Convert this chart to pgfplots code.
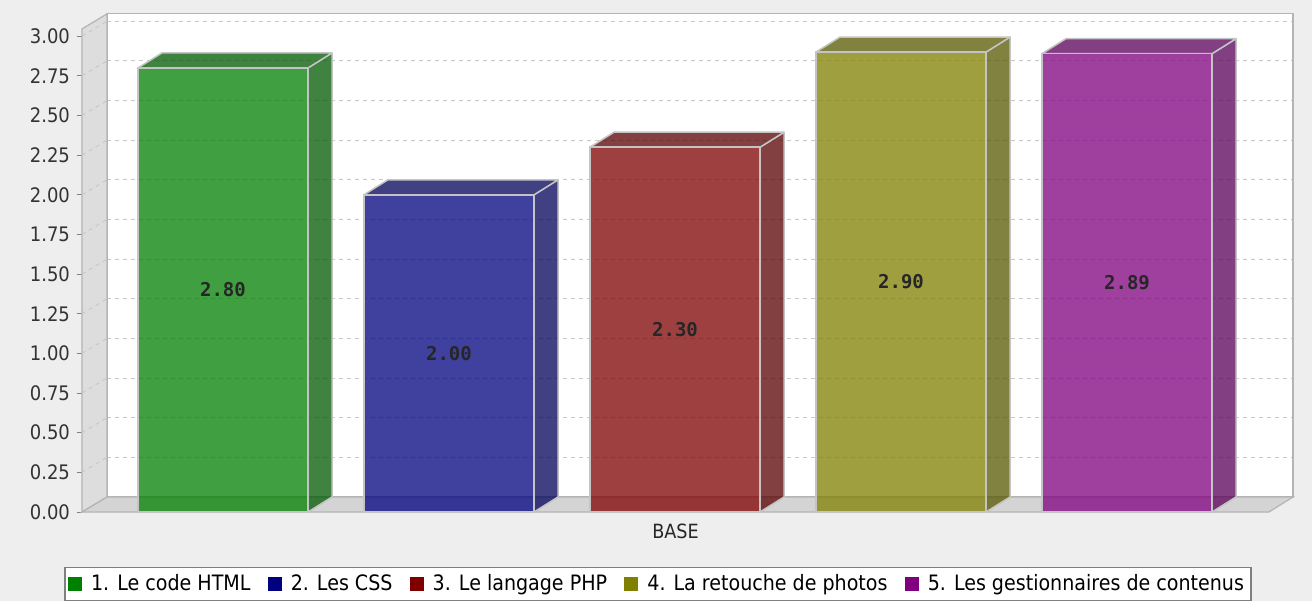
\documentclass[border=0pt]{standalone}
\usepackage{fontspec}
\usepackage{pgfplots}
\pgfplotsset{compat=1.18}
\setmainfont{DejaVu Sans Condensed}
\newfontfamily\valfont{DejaVu Sans Mono}

\definecolor{bg}{HTML}{EEEEEE}
\definecolor{wall}{HTML}{DDDDDD}
\definecolor{floorc}{HTML}{D4D4D4}
\definecolor{wallline}{HTML}{B4B4B4}
\definecolor{gridc}{HTML}{C8C8C8}
\definecolor{barline}{HTML}{C4C4C4}
\definecolor{cA}{HTML}{008000}\definecolor{dA}{HTML}{005900}
\definecolor{cB}{HTML}{000080}\definecolor{dB}{HTML}{000059}
\definecolor{cC}{HTML}{800000}\definecolor{dC}{HTML}{590000}
\definecolor{cD}{HTML}{808000}\definecolor{dD}{HTML}{595900}
\definecolor{cE}{HTML}{800080}\definecolor{dE}{HTML}{590059}

% #1 left edge (px), #2 value, #3 label, #4 colour, #5 dark colour
\newcommand{\barthreed}[5]{%
  \pgfmathsetmacro{\xR}{#1+170}%
  \pgfmathsetmacro{\xRb}{#1+194}%
  \pgfmathsetmacro{\xLb}{#1+24}%
  \pgfmathsetmacro{\xC}{#1+85}%
  \pgfmathsetmacro{\vb}{#2+0.0946}%
  \pgfmathsetmacro{\vh}{#2/2}%
  \edef\doplots{%
    \noexpand\addplot[forget plot, fill=#5, fill opacity=0.75, draw=barline, line width=0.75pt, line join=round] coordinates {(\xR,0) (\xRb,0.0946) (\xRb,\vb) (\xR,#2)} -- cycle;
    \noexpand\addplot[forget plot, fill=#5, fill opacity=0.75, draw=barline, line width=0.75pt, line join=round] coordinates {(#1,#2) (\xR,#2) (\xRb,\vb) (\xLb,\vb)} -- cycle;
    \noexpand\addplot[forget plot, fill=#4, fill opacity=0.75, draw=barline, line width=0.75pt, line join=round] coordinates {(#1,0) (\xR,0) (\xR,#2) (#1,#2)} -- cycle;
    \noexpand\node[font=\noexpand\valfont\noexpand\bfseries\noexpand\fontsize{9.5}{11}\noexpand\selectfont, text=black!85] at (axis cs:\xC,\vh) {#3};
  }\doplots
}

\begin{document}
\begin{tikzpicture}
\useasboundingbox (0,0) rectangle (656pt,300.5pt);
\fill[bg] (0,0) rectangle (656pt,300.5pt);
\begin{axis}[
  at={(41pt,44.5pt)}, anchor=south west,
  x=0.5pt, y=79.3pt,
  xmin=82, xmax=1293, ymin=0, ymax=3.1406,
  clip=false,
  axis line style={draw=none},
  ytick={0,0.25,0.5,0.75,1,1.25,1.5,1.75,2,2.25,2.5,2.75,3},
  ytick pos=left, tick align=outside,
  major tick length=2.5pt,
  ytick style={draw=gray, line width=0.5pt},
  xtick={675.5}, xticklabels={BASE},
  xtick style={draw=none},
  /pgf/number format/assume math mode=true,
  yticklabel style={/pgf/number format/.cd, fixed, fixed zerofill, precision=2, /tikz/.cd,
     font=\fontsize{10}{12}\selectfont, text=black!80},
  xticklabel style={font=\fontsize{9.8}{12}\selectfont, text=black!85},
  legend columns=5,
  legend style={at={(axis description cs:0.4756,-0.1104)}, anchor=north,
     draw=gray, fill=white, line width=0.6pt,
     font=\fontsize{10.6}{12.5}\selectfont, inner sep=1.5pt,
     nodes={inner sep=2pt},
     /tikz/every odd column/.append style={column sep=2.5pt},
     /tikz/every even column/.append style={column sep=6.5pt}},
]
% back wall
\fill[white] (axis cs:107,0.0946) rectangle (axis cs:1293,3.1406);
\pgfplotsinvokeforeach{0.25,0.5,0.75,1,1.25,1.5,1.75,2,2.25,2.5,2.75,3}{
  \draw[gridc, line width=0.5pt, dash pattern=on 2pt off 2pt] (axis cs:107,{#1+0.0946}) -- (axis cs:1293,{#1+0.0946});
}
\draw[wallline, line width=0.6pt] (axis cs:107,0.0946) rectangle (axis cs:1293,3.1406);
% left wall
\filldraw[fill=wall, draw=wallline, line width=0.6pt] (axis cs:82,0) -- (axis cs:107,0.0946) -- (axis cs:107,3.1406) -- (axis cs:82,3.046) -- cycle;
\pgfplotsinvokeforeach{0.25,0.5,0.75,1,1.25,1.5,1.75,2,2.25,2.5,2.75,3}{
  \draw[gridc, line width=0.5pt, dash pattern=on 2pt off 2pt] (axis cs:82,#1) -- (axis cs:107,{#1+0.0946});
}
% floor
\filldraw[fill=floorc, draw=wallline, line width=0.6pt] (axis cs:82,0) -- (axis cs:1269,0) -- (axis cs:1293,0.0946) -- (axis cs:107,0.0946) -- cycle;
% bars
\barthreed{138}{2.80}{2.80}{cA}{dA}
\barthreed{364}{2.00}{2.00}{cB}{dB}
\barthreed{590}{2.30}{2.30}{cC}{dC}
\barthreed{816}{2.90}{2.90}{cD}{dD}
\barthreed{1042}{2.89}{2.89}{cE}{dE}
% legend
\addlegendimage{legend image code/.code={\fill[cA] (0pt,-3.25pt) rectangle (6.5pt,3.25pt);}}
\addlegendentry{1. Le code HTML}
\addlegendimage{legend image code/.code={\fill[cB] (0pt,-3.25pt) rectangle (6.5pt,3.25pt);}}
\addlegendentry{2. Les CSS}
\addlegendimage{legend image code/.code={\fill[cC] (0pt,-3.25pt) rectangle (6.5pt,3.25pt);}}
\addlegendentry{3. Le langage PHP}
\addlegendimage{legend image code/.code={\fill[cD] (0pt,-3.25pt) rectangle (6.5pt,3.25pt);}}
\addlegendentry{4. La retouche de photos}
\addlegendimage{legend image code/.code={\fill[cE] (0pt,-3.25pt) rectangle (6.5pt,3.25pt);}}
\addlegendentry{5. Les gestionnaires de contenus}
\end{axis}
\end{tikzpicture}
\end{document}
